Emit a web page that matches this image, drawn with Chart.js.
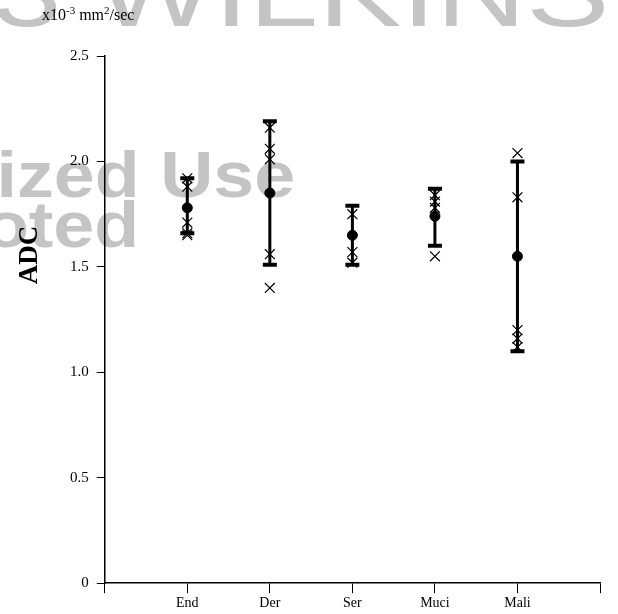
<!DOCTYPE html>
<html>
<head>
<meta charset="utf-8">
<script src="https://cdn.jsdelivr.net/npm/chart.js@4.4.1/dist/chart.umd.min.js"></script>
<style>
  html, body { margin: 0; padding: 0; background: #fff; }
  #wrap { width: 618px; height: 614px; }
</style>
</head>
<body>
<div id="wrap"><canvas id="adcChart"></canvas></div>
<script>
// groups on the x axis
const categories = ["End", "Der", "Ser", "Muci", "Mali"];
// mean ADC for each group (x10-3 mm2/sec)
const means = [1.78, 1.85, 1.65, 1.74, 1.55];
// error bar ends
const barLow = [1.66, 1.51, 1.51, 1.60, 1.10];
const barHigh = [1.92, 2.19, 1.79, 1.87, 2.00];
// individual cases
const cases = [
    [1.92, 1.88, 1.71, 1.66, 1.65],
    [2.16, 2.06, 2.01, 1.56, 1.40],
    [1.75, 1.57, 1.52],
    [1.84, 1.81, 1.78, 1.55],
    [2.04, 1.83, 1.20, 1.16, 1.12]
];
const yTicks = [0, 0.5, 1.0, 1.5, 2.0, 2.5];

const serif = "'Liberation Serif', 'DejaVu Serif', serif";

// build the scatter data from the arrays above
const linePts = [];
const capPts = [];
const meanPts = [];
const casePts = [];
categories.forEach((c, i) => {
    const x = i + 1;
    linePts.push({x: x, y: barLow[i]}, {x: x, y: barHigh[i]}, {x: x, y: null});
    capPts.push({x: x, y: barLow[i]}, {x: x, y: barHigh[i]});
    meanPts.push({x: x, y: means[i]});
    cases[i].forEach(v => casePts.push({x: x, y: v}));
});

// writes text pieces one after another, raised pieces smaller
function drawParts(ctx, parts, x, y) {
    parts.forEach(p => {
        ctx.font = (p.sup ? "11px " : "16px ") + serif;
        ctx.fillText(p.t, x, p.sup ? y - 6 : y);
        x += ctx.measureText(p.t).width;
    });
}

// faint watermark, unit label and y title
const extras = {
    id: "extras",
    beforeDraw(chart) {
        const ctx = chart.ctx;
        ctx.save();
        ctx.fillStyle = "#c4c4c4";
        ctx.textBaseline = "alphabetic";
        ctx.save();
        ctx.scale(1.3, 1);
        ctx.font = "96px 'Liberation Sans', Arial, sans-serif";
        ctx.fillText("3 WILKINS", -6, 26);
        ctx.restore();
        ctx.save();
        ctx.scale(1.15, 1);
        ctx.font = "bold 64px 'Liberation Sans', Arial, sans-serif";
        ctx.fillText("ized Use", -3, 197);
        ctx.fillText("oted", -14, 247);
        ctx.restore();
        ctx.restore();
    },
    afterDraw(chart) {
        const ctx = chart.ctx;
        ctx.save();
        ctx.fillStyle = "#000";
        ctx.textBaseline = "alphabetic";
        drawParts(ctx, [
            {t: "x10"}, {t: "-3", sup: true}, {t: " mm"}, {t: "2", sup: true}, {t: "/sec"}
        ], 42, 20);
        ctx.translate(30, 255);
        ctx.rotate(-Math.PI / 2);
        ctx.textAlign = "center";
        ctx.textBaseline = "middle";
        ctx.font = "bold 27px " + serif;
        ctx.fillText("ADC", 0, 0);
        ctx.restore();
    }
};

new Chart(document.getElementById("adcChart"), {
    type: "scatter",
    data: {
        datasets: [
            {
                data: linePts,
                showLine: true,
                spanGaps: false,
                borderColor: "#000",
                borderWidth: 3,
                pointRadius: 0
            },
            {
                data: capPts,
                pointStyle: "line",
                pointRadius: 7,
                borderColor: "#000",
                borderWidth: 4
            },
            {
                data: meanPts,
                pointStyle: "circle",
                pointRadius: 5,
                backgroundColor: "#000",
                borderColor: "#000",
                borderWidth: 1
            },
            {
                data: casePts,
                pointStyle: "crossRot",
                pointRadius: 7,
                borderColor: "#000",
                borderWidth: 1.2
            }
        ]
    },
    options: {
        responsive: true,
        maintainAspectRatio: false,
        animation: false,
        events: [],
        layout: {
            padding: {left: 62, right: 18, top: 56, bottom: 0}
        },
        plugins: {
            legend: {display: false},
            tooltip: {enabled: false}
        },
        scales: {
            x: {
                type: "linear",
                min: 0,
                max: 6,
                grid: {
                    drawOnChartArea: false,
                    drawTicks: true,
                    tickLength: 10,
                    color: "#000"
                },
                border: {display: true, color: "#000", width: 1.5},
                ticks: {
                    stepSize: 1,
                    color: "#000",
                    padding: 2,
                    maxRotation: 0,
                    font: {family: serif, size: 14},
                    callback: v => categories[v - 1] || ""
                }
            },
            y: {
                min: 0,
                max: 2.5,
                afterBuildTicks: axis => {
                    axis.ticks = yTicks.map(v => ({value: v}));
                },
                grid: {
                    drawOnChartArea: false,
                    drawTicks: true,
                    tickLength: 8,
                    color: "#000"
                },
                border: {display: true, color: "#000", width: 1.5},
                ticks: {
                    color: "#000",
                    padding: 8,
                    font: {family: serif, size: 15},
                    callback: v => v === 0 ? "0" : v.toFixed(1)
                }
            }
        }
    },
    plugins: [extras]
});
</script>
</body>
</html>
